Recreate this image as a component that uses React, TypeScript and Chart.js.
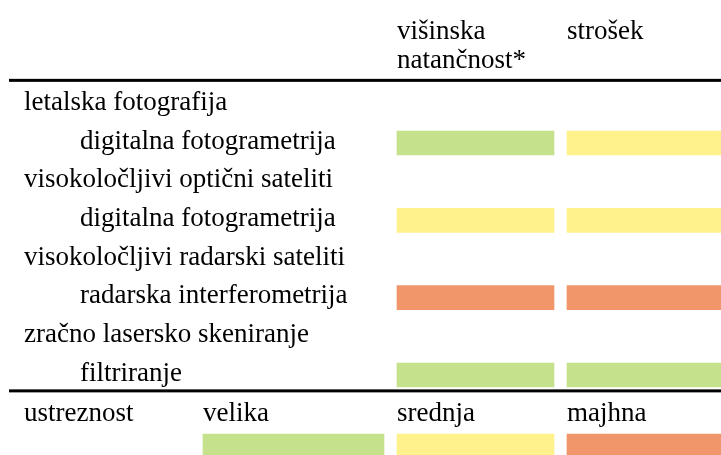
import React, { useEffect, useRef } from "react";
import { Chart, registerables } from "chart.js";

Chart.register(...registerables);

// ---- data ----
const groups = [
  "letalska fotografija",
  "visokoločljivi optični sateliti",
  "visokoločljivi radarski sateliti",
  "zračno lasersko skeniranje",
];
const methods = [
  "digitalna fotogrametrija",
  "digitalna fotogrametrija",
  "radarska interferometrija",
  "filtriranje",
];
const criteriaHeaders = [["višinska", "natančnost*"], ["strošek"]];
const accuracy = ["velika", "srednja", "majhna", "velika"];
const cost = ["srednja", "srednja", "majhna", "velika"];
const levels = ["velika", "srednja", "majhna"];
const legendTitle = "ustreznost";

// ---- styles / layout ----
const levelColors: Record<string, string> = {
  velika: "#c5e18b",
  srednja: "#fff28d",
  majhna: "#f1966a",
};
const FONT = "27px 'Liberation Serif', serif";
const W = 721;
const H = 455;
const ROW_PX = 38.67;
const ROW0_PX = 104.33;
const X_GROUP = 24;
const X_METHOD = 80;
const X_LEGEND_TITLE = 24;
const critCols = [
  [397, 554],
  [567, 721],
];
const legendCols = [
  [203, 384],
  [397, 554],
  [567, 721],
];
const HEADER_ROWS = [-1.85, -1.1];
const RULES = [-0.62, 7.41];
const RULE_W = 3;
const LEGEND_TEXT_ROW = 8.04;
const LEGEND_BAR_ROW = 8.8;
const BASE_OFF = 5.8;

export default function App() {
  const ref = useRef<HTMLCanvasElement>(null);
  useEffect(() => {
    const canvas = ref.current!;
    const methodRow = (i: number) => i * 2 + 1;
    const groupRow = (i: number) => i * 2;

    const critData = [accuracy, cost].map((vals, c) => ({
      data: vals.map((v, i) => ({ x: critCols[c], y: methodRow(i) })),
      backgroundColor: vals.map((v) => levelColors[v]),
      barThickness: 24,
      grouped: false,
      borderWidth: 0,
    }));
    const legendData = {
      data: levels.map((l, i) => ({ x: legendCols[i], y: LEGEND_BAR_ROW })),
      backgroundColor: levels.map((l) => levelColors[l]),
      barThickness: 21,
      grouped: false,
      borderWidth: 0,
    };

    const textPlugin = {
      id: "tableText",
      afterDraw(chart: any) {
        const ctx = chart.ctx as CanvasRenderingContext2D;
        const xs = chart.scales.x;
        const ys = chart.scales.y;
        ctx.save();
        ctx.fillStyle = "#000";
        ctx.font = FONT;
        ctx.textBaseline = "alphabetic";
        ctx.textAlign = "left";
        const put = (t: string, x: number, row: number) =>
          ctx.fillText(t, xs.getPixelForValue(x), ys.getPixelForValue(row) + BASE_OFF);
        criteriaHeaders.forEach((lines, c) =>
          lines.forEach((ln, k) => put(ln, critCols[c][0], HEADER_ROWS[k]))
        );
        groups.forEach((g, i) => put(g, X_GROUP, groupRow(i)));
        methods.forEach((m, i) => put(m, X_METHOD, methodRow(i)));
        put(legendTitle, X_LEGEND_TITLE, LEGEND_TEXT_ROW);
        levels.forEach((l, i) => put(l, legendCols[i][0], LEGEND_TEXT_ROW));
        RULES.forEach((r) => {
          const y = ys.getPixelForValue(r);
          ctx.fillRect(xs.getPixelForValue(9), y - RULE_W / 2, xs.getPixelForValue(W) - xs.getPixelForValue(9), RULE_W);
        });
        ctx.restore();
      },
    };

    const chart = new Chart(canvas, {
      type: "bar",
      data: { datasets: [...critData, legendData] as any },
      options: {
        indexAxis: "y",
        animation: false,
        responsive: false,
        maintainAspectRatio: false,
        layout: { padding: 0 },
        plugins: { legend: { display: false }, tooltip: { enabled: false } },
        scales: {
          x: { type: "linear", min: 0, max: W, display: false, offset: false, grace: 0 },
          y: {
            type: "linear",
            reverse: true,
            offset: false,
            grace: 0,
            min: -ROW0_PX / ROW_PX,
            max: (H - ROW0_PX) / ROW_PX,
            display: false,
          },
        },
      },
      plugins: [textPlugin],
    });
    return () => chart.destroy();
  }, []);
  return (
    <div style={{ position: "absolute", left: 0, top: 0, width: W, height: H, background: "#fff" }}>
      <canvas ref={ref} width={W} height={H} style={{ width: W, height: H, display: "block" }} />
    </div>
  );
}
